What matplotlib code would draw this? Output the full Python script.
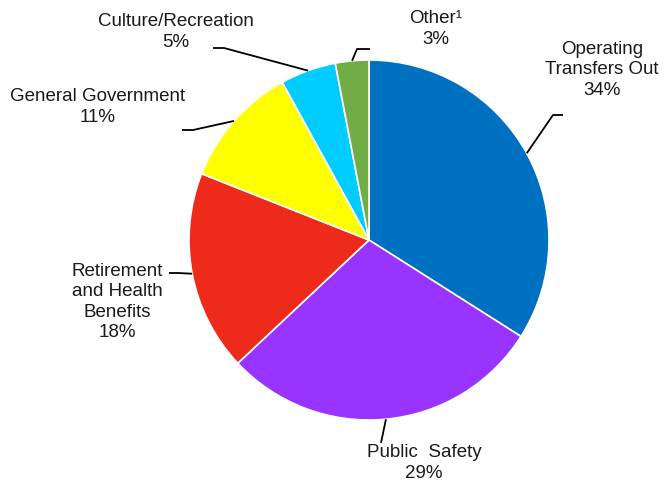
import matplotlib.pyplot as plt
import numpy as np

plt.rcParams['font.family'] = ['Liberation Sans', 'DejaVu Sans']

# donnees du graphique (sens horaire depuis midi)
labels = ['Operating\nTransfers Out', 'Public  Safety', 'Retirement\nand Health\nBenefits',
          'General Government', 'Culture/Recreation', 'Other\u00b9']
values = [34, 29, 18, 11, 5, 3]
colors = ['#0070C0', '#9933FF', '#EE2A1A', '#FFFF00', '#00CCFF', '#70AD47']

# positions des etiquettes (pixels, origine en haut a gauche)
label_pos = [(602, 70), (424, 463), (117, 302), (98, 107), (176, 32), (436, 29)]
# coude des traits de rappel : (x du coude, y, x de fin)
elbows = [(553, 115, 563), (381, 443, 381), (178, 273, 169),
          (193, 130, 182), (224, 48, 213), (357, 49, 370)]

W, H = 668, 484
cx, cy, R = 369, 240, 180

fig = plt.figure(figsize=(W / 100, H / 100), dpi=100)
ax = fig.add_axes([0, 0, 1, 1])

wedges, _ = ax.pie(values, colors=colors, startangle=90, counterclock=False,
                   center=(cx, H - cy), radius=R, frame=True,
                   wedgeprops=dict(edgecolor='white', linewidth=1.2))
ax.set_xlim(0, W)
ax.set_ylim(0, H)
ax.set_aspect('equal')
ax.axis('off')

for w, lab, v, (lx, ly), (ex, ey, fx) in zip(wedges, labels, values, label_pos, elbows):
    ang = np.deg2rad((w.theta1 + w.theta2) / 2)
    px = cx + R * np.cos(ang)
    py = (H - cy) + R * np.sin(ang)
    ax.plot([px, ex, fx], [py, H - ey, H - ey], color='black', lw=1.3,
            solid_capstyle='butt')
    ax.text(lx, H - ly, f'{lab}\n{v}%', ha='center', va='center', fontsize=13.5,
            linespacing=1.27, color='#1a1a1a')

plt.savefig('out.png', dpi=100)
